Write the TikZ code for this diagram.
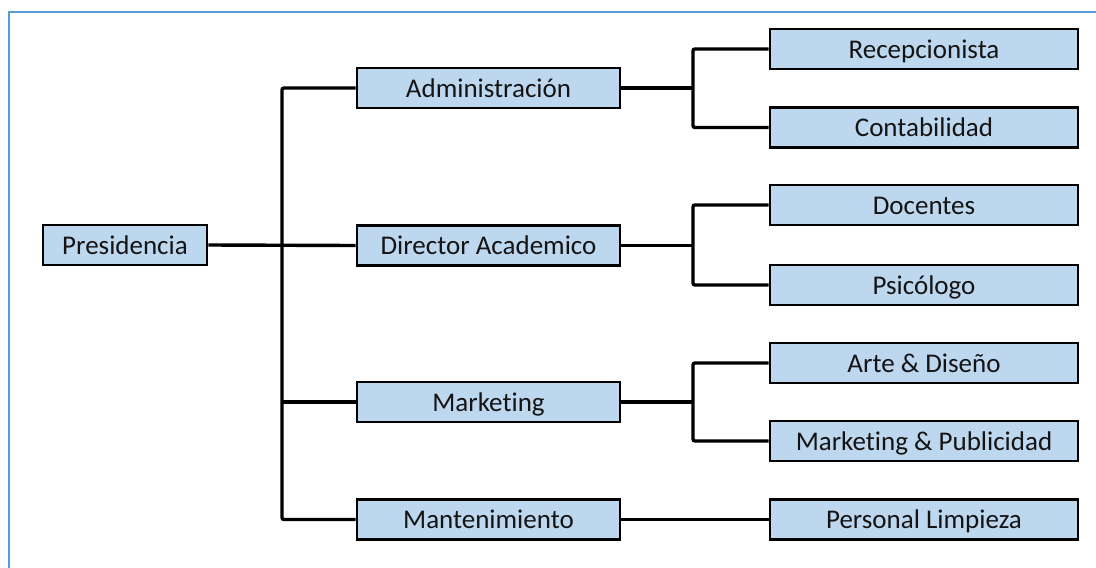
\documentclass[tikz,border=0pt]{standalone}
\usepackage{fontspec}
\setmainfont{Carlito}[Ligatures=NoCommon]
\definecolor{boxfill}{HTML}{BDD7EE}
\definecolor{framecol}{HTML}{5B9BD5}
\definecolor{txt}{HTML}{141414}
\begin{document}
\begin{tikzpicture}[x=1pt,y=-1pt,
  box/.style={draw=black,line width=2.6pt,fill=boxfill,inner sep=0pt,
    text height=20pt,text depth=2pt,
    font=\fontsize{27}{30}\selectfont,text=txt},
  midbox/.style={box,minimum width=263pt,minimum height=40pt},
  rbox/.style={box,minimum width=308pt,minimum height=40pt},
  conn/.style={line width=3.4pt,rounded corners=2pt}]
\useasboundingbox (0,0) rectangle (1096,568);
\draw[framecol,line width=2pt] (9,580) -- (9,12) -- (1110,12);
\node[box,minimum width=164pt,minimum height=40pt] (pres) at (125,245) {Presidencia};
\node[midbox] (adm) at (488.5,88) {Administración};
\node[midbox] (dir) at (488.5,245.5) {Director Academico};
\node[midbox] (mkt) at (488.5,402) {Marketing};
\node[midbox] (man) at (488.5,519.5) {Mantenimiento};
\node[rbox] (rec) at (924,49) {Recepcionista};
\node[rbox] (con) at (924,127.5) {Contabilidad};
\node[rbox] (doc) at (924,205) {Docentes};
\node[rbox] (psi) at (924,285) {Psicólogo};
\node[rbox] (art) at (924,363) {Arte \& Diseño};
\node[rbox] (mp) at (924,441) {Marketing \& Publicidad};
\node[rbox] (pl) at (924,519.5) {Personal Limpieza};
\coordinate (tx) at (282,0);
\coordinate (bx) at (693,0);
% first level
\draw[conn] (pres.east) -- (dir.west);
\draw[conn] (adm.west) -- (adm.west -| tx) -- (man.west -| tx) -- (man.west);
\draw[conn] (mkt.west) -- (mkt.west -| tx);
% second level
\draw[conn] (adm.east) -- (adm.east -| bx);
\draw[conn] (rec.west) -- (rec.west -| bx) -- (con.west -| bx) -- (con.west);
\draw[conn] (dir.east) -- (dir.east -| bx);
\draw[conn] (doc.west) -- (doc.west -| bx) -- (psi.west -| bx) -- (psi.west);
\draw[conn] (mkt.east) -- (mkt.east -| bx);
\draw[conn] (art.west) -- (art.west -| bx) -- (mp.west -| bx) -- (mp.west);
\draw[conn] (man.east) -- (pl.west);
\end{tikzpicture}
\end{document}
